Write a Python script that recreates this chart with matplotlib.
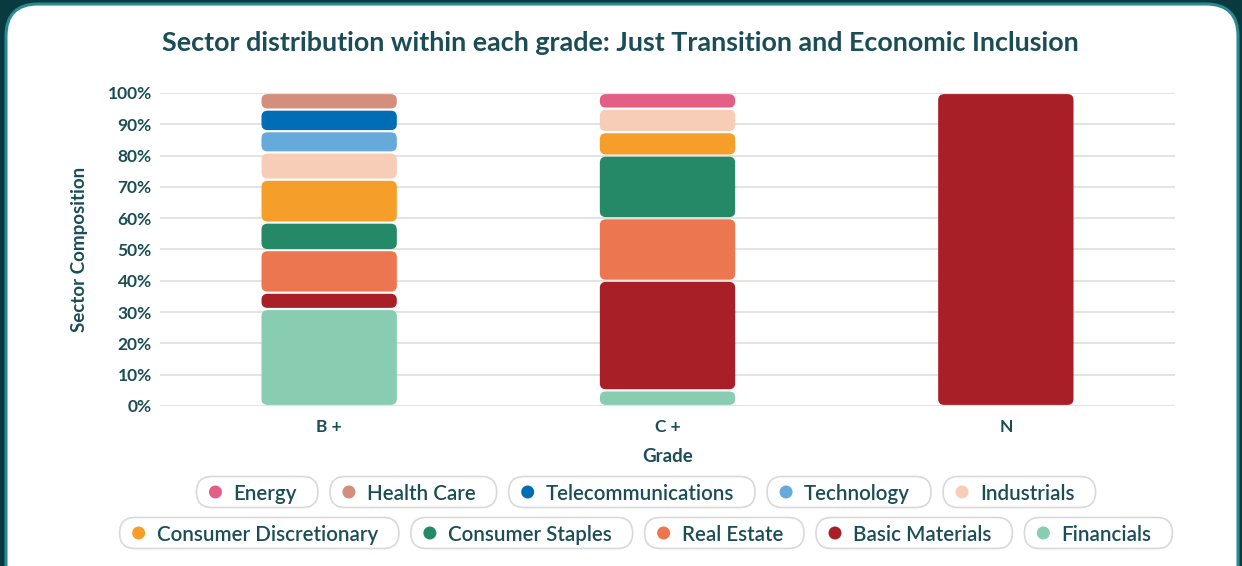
import matplotlib
matplotlib.use("Agg")
import matplotlib.pyplot as plt
from matplotlib.patches import FancyBboxPatch, Ellipse

# ── data ──────────────────────────────────────────────────────────────────────
grades = ["B +", "C +", "N"]
sectors = ["Energy", "Health Care", "Telecommunications", "Technology", "Industrials",
           "Consumer Discretionary", "Consumer Staples", "Real Estate",
           "Basic Materials", "Financials"]
colors = ["#e35f86", "#d48f7c", "#006db4", "#66a9db", "#f7cdb8",
          "#f59e2a", "#258866", "#eb764f", "#a91f28", "#88cdb1"]

# shares (%) per grade, in the order of `sectors`
b_plus = [0, 5.3, 6.9, 6.8, 8.7, 13.7, 8.8, 13.6, 5.2, 31.0]
c_plus = [5.0, 0, 0, 0, 7.5, 7.5, 20.0, 20.0, 35.0, 5.0]
n_grade = [0, 0, 0, 0, 0, 0, 0, 0, 100.0, 0]
shares = [b_plus, c_plus, n_grade]

yticks = [0, 10, 20, 30, 40, 50, 60, 70, 80, 90, 100]

# ── style ─────────────────────────────────────────────────────────────────────
TEXT = "#1b4d57"
GRID = "#dedede"
W, H, DPI = 1242, 566, 100
plt.rcParams["font.family"] = ["Lato", "DejaVu Sans"]

fig = plt.figure(figsize=(W / DPI, H / DPI), dpi=DPI)
fig.patch.set_facecolor("#093a40")

# card background (runs off the bottom edge)
card = FancyBboxPatch((6 / W, (H - 4 - 620) / H), 1232 / W, 620 / H,
                      boxstyle="round,pad=0,rounding_size=%f" % (32 / W),
                      mutation_aspect=W / H,
                      transform=fig.transFigure, facecolor="white",
                      edgecolor="#2a8a92", linewidth=2.2, zorder=-5)
fig.patches.append(card)

ax = fig.add_axes([160 / W, 1 - 406 / H, 1015 / W, 313 / H])
ax.set_facecolor("none")
ax.set_xlim(-0.5, 2.5)
ax.set_ylim(0, 100)

for y in yticks:
    ax.axhline(y, color=GRID, lw=1.2, zorder=0)

# stacked bars, then swap each rectangle for a rounded one
order = list(range(len(sectors)))[::-1]   # Financials at the bottom
bottoms = [0.0] * len(grades)
xpos = list(range(len(grades)))
x_px = 1015 / 3.0
y_px = 313 / 100.0
for i in order:
    vals = [s[i] for s in shares]
    bars = ax.bar(xpos, vals, 0.4, bottom=bottoms, color=colors[i])
    for r in bars:
        r.set_visible(False)
        if r.get_height() <= 0:
            continue
        gap = 0.35
        ax.add_patch(FancyBboxPatch(
            (r.get_x(), r.get_y() + gap), r.get_width(), r.get_height() - 2 * gap,
            boxstyle="round,pad=0,rounding_size=%f" % (6 / x_px),
            mutation_aspect=x_px / y_px,
            facecolor=colors[i], edgecolor="none", zorder=2))
    bottoms = [b + v for b, v in zip(bottoms, vals)]

for s in ax.spines.values():
    s.set_visible(False)
ax.set_yticks(yticks)
ax.set_yticklabels([f"{v}%" for v in yticks])
ax.set_xticks(xpos)
ax.set_xticklabels(grades)
ax.tick_params(length=0, labelsize=12.5, labelcolor=TEXT)
ax.tick_params(axis="y", pad=6)
ax.tick_params(axis="x", pad=9)
for lab in ax.get_xticklabels() + ax.get_yticklabels():
    lab.set_fontweight("bold")
ax.set_ylabel("Sector Composition", fontsize=13.5, fontweight="bold", color=TEXT, labelpad=14)
ax.set_xlabel("Grade", fontsize=13.5, fontweight="bold", color=TEXT, labelpad=10)

fig.text(620 / W, 1 - 43 / H,
         "Sector distribution within each grade: Just Transition and Economic Inclusion",
         ha="center", va="center", fontsize=19.4, fontweight="bold", color=TEXT)

# ── pill legend ───────────────────────────────────────────────────────────────
rows = [sectors[:5], sectors[5:]]
row_y = [492, 533]
fig.canvas.draw()
renderer = fig.canvas.get_renderer()
fs = 14.8
for names, yc in zip(rows, row_y):
    texts, widths = [], []
    for nm in names:
        t = fig.text(0, 0, nm, fontsize=fs, color=TEXT, ha="left",
                     va="center_baseline", fontweight="semibold")
        widths.append(t.get_window_extent(renderer).width)
        texts.append(t)
    pill_w = [w + 58 for w in widths]
    gap = 12
    total = sum(pill_w) + gap * (len(names) - 1)
    x0 = 646 - total / 2
    for nm, t, pw in zip(names, texts, pill_w):
        col = colors[sectors.index(nm)]
        ph = 31
        fig.patches.append(FancyBboxPatch(
            (x0 / W, (H - yc - ph / 2) / H), pw / W, ph / H,
            boxstyle="round,pad=0,rounding_size=%f" % (15.5 / W),
            mutation_aspect=W / H, transform=fig.transFigure,
            facecolor="white", edgecolor="#d9d9d9", linewidth=1.2, zorder=1))
        fig.patches.append(Ellipse(((x0 + 19) / W, (H - yc) / H), 13 / W, 13 / H,
                                   transform=fig.transFigure, facecolor=col,
                                   edgecolor="none", zorder=2))
        t.set_position(((x0 + 37) / W, (H - yc) / H))
        t.set_zorder(3)
        x0 += pw + gap

fig.savefig("out.png", dpi=DPI, facecolor=fig.get_facecolor())
